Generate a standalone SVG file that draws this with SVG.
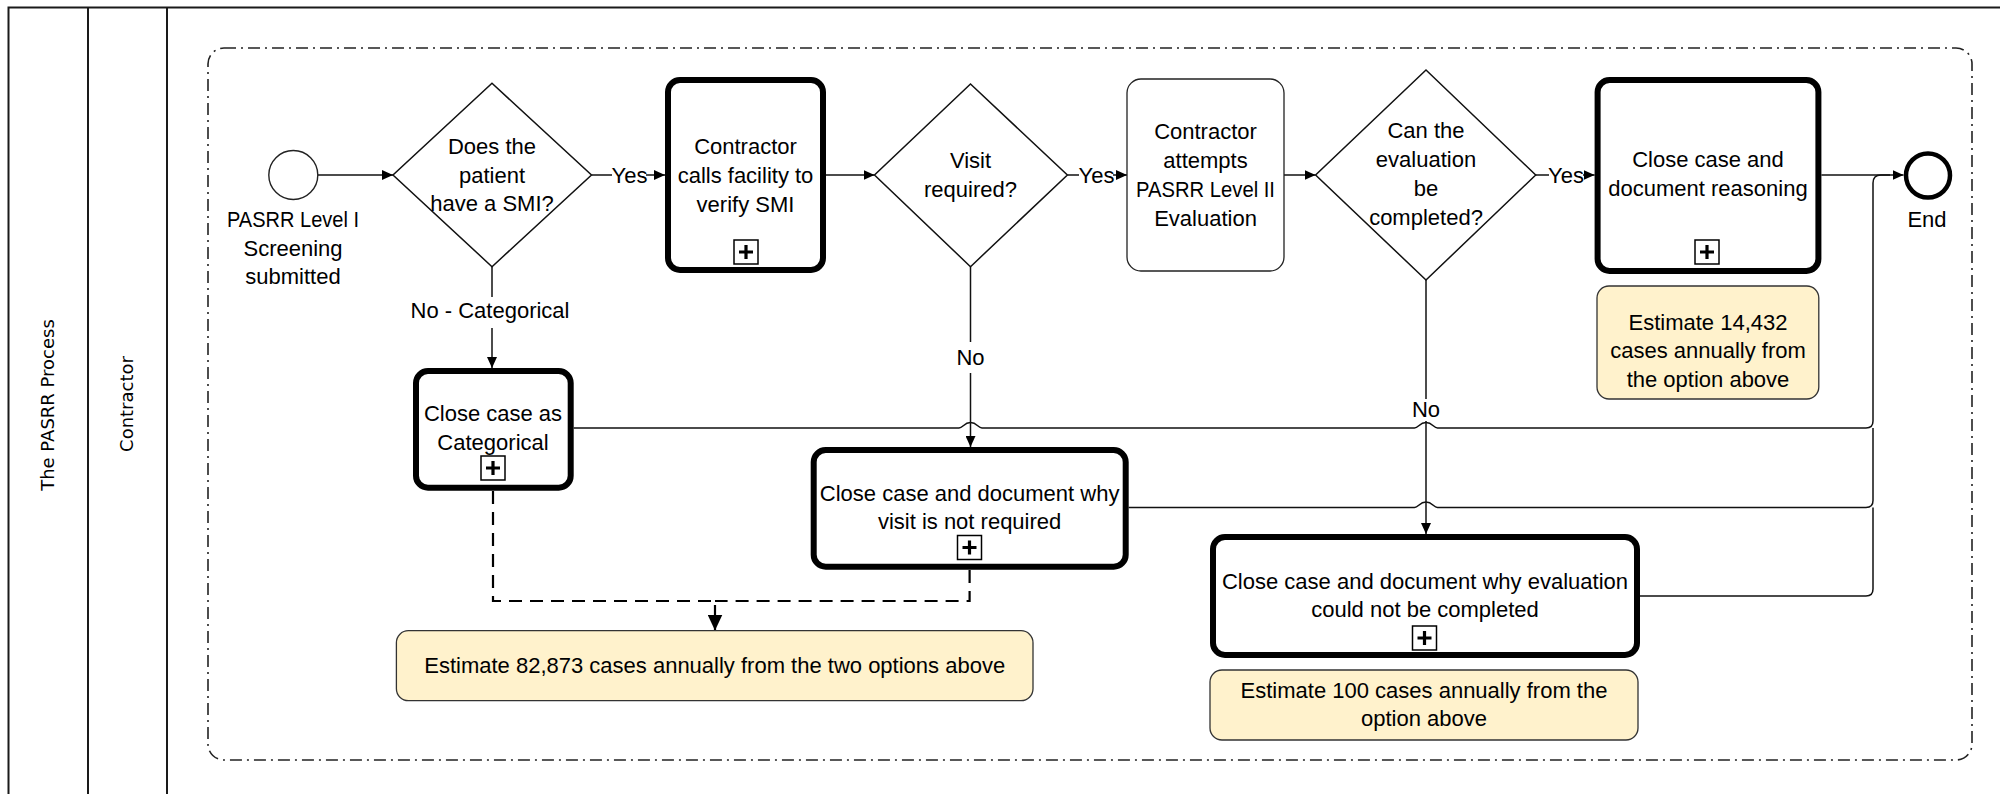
<svg xmlns="http://www.w3.org/2000/svg" width="2000" height="794" viewBox="0 0 2000 794">
<style>
.lane{fill:none;stroke:#1a1a1a;stroke-width:2}
.grp{fill:none;stroke:#222;stroke-width:1.6;stroke-dasharray:12 5 2 5}
.ev{fill:#fff;stroke:#222;stroke-width:1.4}
.end{fill:#fff;stroke:#000;stroke-width:4.5}
.gw{fill:#fff;stroke:#111;stroke-width:1.5}
.sub{fill:#fff;stroke:#000;stroke-width:6}
.task{fill:#fff;stroke:#222;stroke-width:1.3}
.note{fill:#FFF2CC;stroke:#333;stroke-width:1.3}
.pbox{fill:#fff;stroke:#000;stroke-width:1.5}
.plus{stroke:#000;stroke-width:3.2;fill:none}
.ln{fill:none;stroke:#111;stroke-width:1.5}
.dash{fill:none;stroke:#000;stroke-width:2.2;stroke-dasharray:13 8}
text{font-family:"Liberation Sans",Arial,sans-serif;font-size:22px;fill:#000;text-anchor:middle}
.hdr{font-family:"DejaVu Sans",Verdana,sans-serif;font-size:18px}
</style>
<defs>
<marker id="arr" markerUnits="userSpaceOnUse" markerWidth="12" markerHeight="10" refX="11" refY="5" orient="auto"><path d="M0,0 L11,5 L0,10 z" fill="#000"/></marker>
<marker id="arrBig" markerUnits="userSpaceOnUse" markerWidth="17" markerHeight="15" refX="16" refY="7.5" orient="auto"><path d="M0,0 L16,7.5 L0,15 z" fill="#000"/></marker>
</defs>

<g id="pool">
<path class="lane" d="M8.5,794 L8.5,7.5 L2000,7.5 M88,7.5 L88,794 M167,7.5 L167,794"/>
<text class="hdr" transform="translate(54,405) rotate(-90)">The PASRR Process</text>
<text class="hdr" transform="translate(133,404) rotate(-90)">Contractor</text>
</g>

<g id="group-boundary">
<rect class="grp" x="208" y="48" width="1764" height="712" rx="16"/>
</g>

<g id="connectors">
<path class="ln" d="M318,175 L393,175" marker-end="url(#arr)"/>
<path class="ln" d="M591.5,175 L612,175"/>
<text x="629.5" y="183">Yes</text>
<path class="ln" d="M646,175 L665,175" marker-end="url(#arr)"/>
<path class="ln" d="M826,175 L874.5,175" marker-end="url(#arr)"/>
<path class="ln" d="M1067.4,175 L1079,175"/>
<text x="1096.5" y="183">Yes</text>
<path class="ln" d="M1113,175 L1127,175" marker-end="url(#arr)"/>
<path class="ln" d="M1284,175 L1315.6,175" marker-end="url(#arr)"/>
<path class="ln" d="M1535.7,175 L1549,175"/>
<text x="1566" y="183">Yes</text>
<path class="ln" d="M1583,175 L1594.6,175" marker-end="url(#arr)"/>
<path class="ln" d="M1821.4,175 L1903.5,175" marker-end="url(#arr)"/>

<path class="ln" d="M492,266.7 L492,297"/>
<text x="490" y="318">No - Categorical</text>
<path class="ln" d="M492,328 L492,368" marker-end="url(#arr)"/>

<path class="ln" d="M970.5,266.7 L970.5,342"/>
<text x="970.5" y="365">No</text>
<path class="ln" d="M970.5,373 L970.5,447" marker-end="url(#arr)"/>

<path class="ln" d="M1426,280 L1426,399"/>
<text x="1426" y="417">No</text>
<path class="ln" d="M1426,421 L1426,534" marker-end="url(#arr)"/>

<path class="ln" d="M573.7,428 L959,428 C963,428 964,422.5 970.5,422.5 C977,422.5 978,428 982,428 L1414.5,428 C1418.5,428 1419.5,422.5 1426,422.5 C1432.5,422.5 1433.5,428 1437.5,428 L1866,428 Q1873,428 1873,421 L1873,183 Q1873,175 1881,175 L1890,175"/>
<path class="ln" d="M1128.6,507.5 L1414.5,507.5 C1418.5,507.5 1419.5,502 1426,502 C1432.5,502 1433.5,507.5 1437.5,507.5 L1866,507.5 Q1873,507.5 1873,500.5 L1873,428"/>
<path class="ln" d="M1640,596 L1866,596 Q1873,596 1873,589 L1873,507.5"/>

<path class="dash" d="M493,491 L493,601 L715,601 L715,630.5" marker-end="url(#arrBig)"/>
<path class="dash" d="M969.6,570 L969.6,601 L715,601"/>
</g>

<g id="start">
<circle class="ev" cx="293.3" cy="175" r="24.5"/>
<text x="293" y="227" textLength="132" lengthAdjust="spacingAndGlyphs">PASRR Level I</text>
<text x="293" y="256">Screening</text>
<text x="293" y="284">submitted</text>
</g>

<g id="gw-smi">
<path class="gw" d="M492,83.3 L591.5,175 L492,266.7 L393,175 z"/>
<text x="492" y="154">Does the</text>
<text x="492" y="183">patient</text>
<text x="492" y="211">have a SMI?</text>
</g>

<g id="task-verify">
<rect class="sub" x="668" y="80" width="155" height="190" rx="12"/>
<text x="745.5" y="154">Contractor</text>
<text x="745.5" y="183">calls facility to</text>
<text x="745.5" y="212">verify SMI</text>
<rect class="pbox" x="734" y="240" width="24" height="24"/>
<path class="plus" d="M739,252 L753,252 M746,245 L746,259"/>
</g>

<g id="gw-visit">
<path class="gw" d="M970.5,84 L1067.4,175 L970.5,266.7 L874.5,175 z"/>
<text x="970.5" y="168">Visit</text>
<text x="970.5" y="197">required?</text>
</g>

<g id="task-attempt">
<rect class="task" x="1127" y="79" width="157" height="192" rx="14"/>
<text x="1205.5" y="139">Contractor</text>
<text x="1205.5" y="168">attempts</text>
<text x="1205.5" y="197" textLength="139" lengthAdjust="spacingAndGlyphs">PASRR Level II</text>
<text x="1205.5" y="226">Evaluation</text>
</g>

<g id="gw-eval">
<path class="gw" d="M1426,70 L1535.7,175 L1426,280 L1315.6,175 z"/>
<text x="1426" y="138">Can the</text>
<text x="1426" y="167">evaluation</text>
<text x="1426" y="196">be</text>
<text x="1426" y="225">completed?</text>
</g>

<g id="task-reasoning">
<rect class="sub" x="1597.6" y="80" width="220.8" height="191" rx="12"/>
<text x="1708" y="167">Close case and</text>
<text x="1708" y="196">document reasoning</text>
<rect class="pbox" x="1695" y="240" width="24" height="24"/>
<path class="plus" d="M1700,252 L1714,252 M1707,245 L1707,259"/>
</g>

<g id="end">
<circle class="end" cx="1928" cy="175.5" r="22"/>
<text x="1927" y="227">End</text>
</g>

<g id="note-14432">
<rect class="note" x="1597" y="286" width="221.8" height="113" rx="12"/>
<text x="1708" y="330">Estimate 14,432</text>
<text x="1708" y="358">cases annually from</text>
<text x="1708" y="386.5">the option above</text>
</g>

<g id="task-categorical">
<rect class="sub" x="416" y="371" width="154.7" height="116.7" rx="12"/>
<text x="493" y="421">Close case as</text>
<text x="493" y="450">Categorical</text>
<rect class="pbox" x="481" y="456" width="24" height="24"/>
<path class="plus" d="M486,468 L500,468 M493,461 L493,475"/>
</g>

<g id="task-visit-not-required">
<rect class="sub" x="813.7" y="450" width="312" height="116.7" rx="12"/>
<text x="969.6" y="501">Close case and document why</text>
<text x="969.6" y="529">visit is not required</text>
<rect class="pbox" x="957.5" y="535.5" width="24" height="24"/>
<path class="plus" d="M962.5,547.5 L976.5,547.5 M969.5,540.5 L969.5,554.5"/>
</g>

<g id="task-eval-not-completed">
<rect class="sub" x="1213" y="537" width="424" height="118" rx="12"/>
<text x="1425" y="589">Close case and document why evaluation</text>
<text x="1425" y="617">could not be completed</text>
<rect class="pbox" x="1412.5" y="626" width="24" height="24"/>
<path class="plus" d="M1417.5,638 L1431.5,638 M1424.5,631 L1424.5,645"/>
</g>

<g id="note-82873">
<rect class="note" x="396.4" y="630.7" width="636.6" height="70" rx="12"/>
<text x="714.7" y="673">Estimate 82,873 cases annually from the two options above</text>
</g>

<g id="note-100">
<rect class="note" x="1210" y="670" width="428" height="70" rx="12"/>
<text x="1424" y="698">Estimate 100 cases annually from the</text>
<text x="1424" y="726">option above</text>
</g>
</svg>
